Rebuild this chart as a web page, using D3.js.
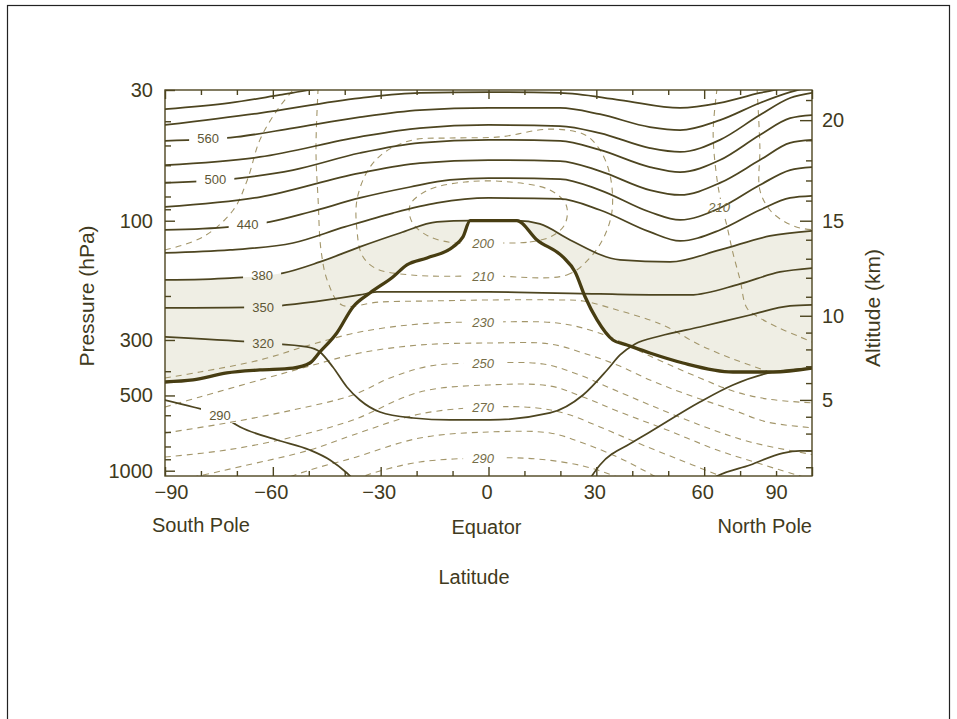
<!DOCTYPE html>
<html>
<head>
<meta charset="utf-8">
<script src="https://cdn.jsdelivr.net/npm/d3@7"></script>
<style>
  html, body { margin: 0; padding: 0; background: #fff; }
  svg { display: block; font-family: "Liberation Sans", Arial, Helvetica, sans-serif; }
</style>
</head>
<body>
<svg id="chart" width="957" height="719"></svg>
<script>
// ---- Axis values ----
const latTicks = [-90, -60, -30, 0, 30, 60, 90];
const latTickLabels = ["\u221290", "\u221260", "\u221230", "0", "30", "60", "90"];
const latMinorTicks = [-80, -70, -50, -40, -20, -10, 10, 20, 40, 50, 70, 80];
const pressureTicks = [30, 100, 300, 500, 1000];
const pressureMinorTicks = [40, 50, 60, 70, 80, 90, 200, 400, 600, 700, 800, 900];
const altitudeKm = [5, 10, 15, 20];
const altitudePressure = [521, 240, 100, 39.6];
const altitudeMinorKm = [1, 2, 3, 4, 6, 7, 8, 9, 11, 12, 13, 14, 16, 17, 18, 19, 21];

// ---- Isentropes (potential temperature, K): [latitude, pressure hPa] ----
const theta620 = [[-90,35.8],[-71.9,33.8],[-58,31.4],[-49.7,30],[-41.3,28.9],[-30.2,28]];
const theta590 = [[-90,41.4],[-63.6,37.1],[-35.8,32.3],[-19.1,30.8],[0,30.6],[19.9,30.8],[36.6,32.9],[53.3,35.4],[64.4,33.8],[75.5,30.8],[81.1,29.7],[86,28.5]];
const theta560 = [[-90,47.9],[-70,46.2],[-54.4,42.6],[-35.8,38.5],[-19.1,36.1],[0,35.4],[19.9,35.4],[31,37.5],[44.9,42.2],[53.3,43.4],[64.4,39.6],[75.5,33.8],[83.9,30.6],[88,29.5]];
const theta530 = [[-90,59.9],[-63.6,55.6],[-35.8,46.2],[-19.1,42.6],[0,41.4],[19.9,41.8],[31,44.6],[44.9,51.2],[53.3,53.1],[64.4,47.5],[75.5,37.8],[83.9,32.3],[90,30.8]];
const theta500 = [[-90,70.6],[-69.1,67.5],[-54.4,62.7],[-35.8,53.6],[-19.1,48.8],[0,47.5],[19.9,47.9],[31,52.1],[44.9,61.0],[53.3,63.9],[64.4,57.2],[75.5,45.4],[83.9,38.9],[90,37.8]];
const theta470 = [[-90,88.1],[-63.6,80.4],[-35.8,64.5],[-19.1,58.8],[0,57.2],[19.9,57.7],[31,63.3],[44.9,75.4],[53.3,78.9],[64.4,70.6],[75.5,57.2],[83.9,48.8],[90,47.5]];
const theta440 = [[-90,108.9],[-71.9,105.9],[-60.8,101.1],[-49.7,92.3],[-35.8,81.1],[-21.8,73.3],[-10.7,68.7],[0,67.5],[19.9,68.1],[31,75.4],[44.9,92.3],[53.3,99.3],[64.4,88.9],[75.5,72.0],[83.9,62.7],[90,61.0]];
const theta410 = [[-90,134.6],[-71.9,130.9],[-54.4,122.8],[-40,105.9],[-26.6,93.2],[-14.3,84.9],[0,81.1],[19.9,81.8],[31,90.6],[44.9,110.9],[53.3,120.5],[64.4,108.9],[75.5,90.6],[83.9,81.1],[90,79.6]];
const theta380 = [[-90,172.6],[-71.9,169.5],[-57.2,161.9],[-46.9,146.2],[-35.8,127.3],[-24.6,112],[-14.3,101.1],[-5.1,100],[7.9,100],[14.3,103],[22.7,119.4],[36.6,143.5],[50.5,146.2],[64.4,130.9],[78.3,115.1],[90,109.9]];
const theta350 = [[-90,223.4],[-62.7,221.3],[-56.1,217.3],[-44.9,207.5],[-35.8,198.2],[-31,192.8],[0,192.8],[31,196.4],[56.1,198.2],[70,179.0],[81.1,160.3],[90,154.6]];
const theta320 = [[-90,291.8],[-62.7,308.5],[-50.5,319.9],[-46.9,335],[-43.3,384.7],[-39.4,462.4],[-35.8,521.3],[-30.2,582.2],[-21,615.4],[-10.7,626.8],[0.4,626.8],[17.1,587.6],[26.3,497.9],[33,395.4],[36.6,344.4],[40.8,311.2],[47.7,289.2],[58.8,266.2],[72.8,238.3],[83.9,219.3],[90,217.3]];
const theta290S = [[-90,521.3],[-82.2,556.1],[-74.7,598.6],[-69.1,668.5],[-58.8,753.6],[-49.7,826.3],[-44.1,906],[-39.4,1021.5],[-35.8,1150]];
const theta290N = [[26.9,1150],[31,948.7],[40.2,767.6],[44.9,700],[58.8,531],[68,454],[79.2,402.8],[90,388.4]];
const theta260N = [[58.8,1150],[63.6,1050],[72.8,948.7],[81.9,849.7],[86.7,834],[90,834]];

// ---- Tropopause ----
const tropopause = [[-90,441.7],[-82.2,433.6],[-72.8,406.5],[-63.6,395.4],[-54.4,388.4],[-49.7,370.8],[-46.9,335],[-42.2,281.3],[-37.7,221.3],[-33,194.6],[-26.6,167.9],[-22.7,150.3],[-17.1,140.9],[-9.9,127.3],[-7.1,116.1],[-5.1,100],[7.9,100],[13.5,119.4],[20.7,139.6],[24.1,160.3],[26.9,201.9],[30.2,249.5],[34.6,300],[38.5,314.1],[44.9,338.2],[54.1,370.8],[68,402.8],[79.2,402.8],[90,388.4]];

// ---- Isotherms (K): [latitude, pressure hPa] ----
const isotherm200 = [[0,122.8],[11.5,121.6],[17.7,115.1],[21.3,103],[21.6,86.5],[17.1,75.4],[6,70],[-6.5,70],[-16.8,75.4],[-21.8,86.5],[-21.3,101.1],[-16.8,115.1],[-9.3,122.8]];
const isotherm210 = [[0,166.3],[21.8,164.8],[28.2,140.9],[32.4,114],[34.4,90.6],[33.8,65.6],[31,52.1],[26.9,45.4],[17.1,43],[3.2,46.2],[-10.7,46.7],[-21,47.5],[-28.8,53.1],[-33.5,62.7],[-36.6,82.6],[-36.6,108.9],[-35.2,137.1],[-31.6,154.6],[-21.8,164.8]];
const isotherm220 = [[-47.4,29.5],[-48,52.1],[-47.4,82.6],[-46.6,130.9],[-44.7,175.8],[-40.8,217.3],[-30.2,211.4],[-16.3,209.4],[0,207.5],[19.9,207.5],[26.3,209.4],[35.8,227.6],[44.9,249.5],[49.7,266.2],[58.8,314.1],[68,357.4],[77.5,399.1]];
const isotherm230 = [[-90,425.7],[-80.3,402.8],[-63.6,360.7],[-49.7,314.1],[-35.8,278.7],[-19.1,258.9],[0,254.1],[19.1,256.5],[28.2,273.6],[35.8,300],[44.9,347.6],[58.8,425.7],[68,479.9],[77.5,516.5],[90.8,536.2]];
const isotherm240 = [[-90,556.1],[-80.3,507.1],[-63.6,433.6],[-49.7,381.2],[-35.8,338.2],[-19.1,314.1],[0,308.5],[17.1,311.2],[26.3,338.2],[35.8,377.7],[44.9,433.6],[54.1,488.7],[68,571.6],[77.5,638.5],[90.8,674.8]];
const isotherm250 = [[-90,706.5],[-72.8,644.3],[-54.4,571.6],[-37.7,497.9],[-27.4,425.7],[-16.3,381.2],[0,370.8],[15.2,374.2],[24.6,410.3],[33.8,466.8],[44.9,545.9],[58.8,656.3],[72.8,767.6],[90.8,865.2]];
const isotherm260 = [[-90,881.3],[-72.8,826.3],[-54.4,733],[-37.7,626.8],[-19.1,484.3],[0,454],[17.1,458.2],[26.3,507.1],[35.8,576.9],[49.7,687.2],[63.6,826.3],[77.5,957.5],[86.7,1050],[92.2,1110]];
const isotherm270 = [[-91.4,1110],[-82.2,1060],[-68.3,957.5],[-49.7,826.3],[-37.7,719.6],[-19.1,593.2],[0,556.1],[13.5,561.2],[21.8,593.2],[31,668.5],[40.2,760.6],[53.3,906],[64.4,1050],[68.6,1120]];
const isotherm280 = [[-60.8,1130],[-49.7,993.4],[-37.7,889.3],[-19.1,739.8],[0,700],[17.1,706.5],[26.3,774.8],[35.8,881.3],[43,993.4],[49.1,1110]];
const isotherm290 = [[-39.9,1130],[-33,1031],[-19.1,922.9],[0,889.3],[13.5,897.5],[26.3,957.5],[35.8,1060],[39.4,1120]];
const isothermPolarSouth = [[-90,130.9],[-79.4,116.1],[-71,90.6],[-67.1,68.7],[-63.6,47.5],[-58.8,36.1],[-54.4,30],[-52.4,27.5]];
const isothermPolarNorth210 = [[63.6,29.5],[62.5,44.6],[63.6,68.7],[65,88.1],[66.4,105.9],[68,134.6],[70,172.6],[71.9,223.4],[75.5,244.9],[80.3,266.2],[86.7,291.8],[90.8,308.5]];
const isothermPolarNorth = [[74.7,29.5],[75.5,50.7],[75.5,75.4],[78.3,90.6],[82.5,101.2],[86.7,106.9],[90.8,108.9]];

// ---- Contour labels ----
const thetaLabelText = ["560", "500", "440", "380", "350", "320", "290"];
const thetaLabelLat = [-78, -76, -67, -63, -62.7, -62.7, -74.7];
const thetaLabelLines = [theta560, theta500, theta440, theta380, theta350, theta320, theta290S];
const tempLabelText = ["200", "210", "230", "250", "270", "290"];
const tempLabelLines = [isotherm200, isotherm210, isotherm230, isotherm250, isotherm270, isotherm290];
const tempLabelLat = -1.5;
const northTempLabel = { text: "210", point: [65, 88.1] };

// ---- Layout ----
const W = 957, H = 719;
const plot = { left: 165, right: 812, top: 90, bottom: 476 };
const ink = "#4d4520";
const textInk = "#3f3a20";
const dashInk = "#a3966a";
const shade = "#efeee4";

const x = d3.scaleLinear().domain([-90, 90]).range([plot.left, plot.right]);
const y = d3.scaleLog().domain([30, 1050]).range([plot.top, plot.bottom]);
const altitude = d3.scaleLinear().domain(altitudeKm).range(altitudePressure.map(y));

const svg = d3.select("#chart");
// isentropes and the tropopause are single-valued in latitude: monotone curves avoid overshoot
const smooth = d3.line().x(d => x(d[0])).y(d => y(d[1])).curve(d3.curveMonotoneX);
// isotherms can fold back on themselves
const line = d3.line().x(d => x(d[0])).y(d => y(d[1])).curve(d3.curveCatmullRom.alpha(0.5));
const loop = d3.line().x(d => x(d[0])).y(d => y(d[1])).curve(d3.curveCatmullRomClosed.alpha(0.5));

function pressureAt(pts, lat) {
  for (let i = 0; i < pts.length - 1; i++) {
    const [a0, p0] = pts[i], [a1, p1] = pts[i + 1];
    if (a0 !== a1 && (lat - a0) * (lat - a1) <= 0) {
      const t = (lat - a0) / (a1 - a0);
      return Math.exp(Math.log(p0) + t * (Math.log(p1) - Math.log(p0)));
    }
  }
  return pts[0][1];
}
const equatorPressure = pts => pts.find(d => d[0] === 0)[1];

// outer border
svg.append("rect").attr("x", 7.5).attr("y", 5.5).attr("width", 942).attr("height", 730)
  .attr("fill", "none").attr("stroke", "#222").attr("stroke-width", 1.2);

const defs = svg.append("defs");
defs.append("clipPath").attr("id", "plotClip").append("rect")
  .attr("x", plot.left).attr("y", plot.top)
  .attr("width", plot.right - plot.left).attr("height", plot.bottom - plot.top);

function makeMask(id, boxes) {
  const m = defs.append("mask").attr("id", id).attr("maskUnits", "userSpaceOnUse")
    .attr("x", 0).attr("y", 0).attr("width", W).attr("height", H);
  m.append("rect").attr("width", W).attr("height", H).attr("fill", "#fff");
  boxes.forEach(b => m.append("rect").attr("x", b.cx - b.w / 2).attr("y", b.cy - 8)
    .attr("width", b.w).attr("height", 16).attr("fill", "#000"));
}

const thetaLabelPos = thetaLabelText.map((t, i) => ({
  text: t, cx: x(thetaLabelLat[i]), cy: y(pressureAt(thetaLabelLines[i], thetaLabelLat[i])), w: 38
}));
const tempLabelPos = tempLabelText.map((t, i) => ({
  text: t, cx: x(tempLabelLat), cy: y(equatorPressure(tempLabelLines[i])), w: 40
}));
tempLabelPos.push({ text: northTempLabel.text, cx: x(northTempLabel.point[0]) - 3, cy: y(northTempLabel.point[1]), w: 30 });

makeMask("thetaMask", thetaLabelPos);
makeMask("tempMask", tempLabelPos);

const plotG = svg.append("g").attr("clip-path", "url(#plotClip)");

// lowermost stratosphere shading: between the 380 K isentrope and the tropopause
function band(upper, lower) {
  return smooth(upper) + smooth(lower.slice().reverse()).replace(/^M/, "L") + "Z";
}
const south = d => d[0] <= -5.1, north = d => d[0] >= 7.9;
plotG.append("path").attr("d", band(theta380.filter(south), tropopause.filter(south))).attr("fill", shade);
plotG.append("path").attr("d", band(theta380.filter(north), tropopause.filter(north))).attr("fill", shade);

// isotherms (dashed)
const tempG = plotG.append("g").attr("mask", "url(#tempMask)")
  .attr("fill", "none").attr("stroke", dashInk).attr("stroke-width", 1.1).attr("stroke-dasharray", "6,5");
[isotherm220, isotherm230, isotherm240, isotherm250, isotherm260, isotherm270, isotherm280, isotherm290,
 isothermPolarSouth, isothermPolarNorth210, isothermPolarNorth].forEach(d => tempG.append("path").attr("d", line(d)));
[isotherm200, isotherm210].forEach(d => tempG.append("path").attr("d", loop(d)));

// isentropes (solid)
const thetaG = plotG.append("g").attr("mask", "url(#thetaMask)")
  .attr("fill", "none").attr("stroke", ink).attr("stroke-width", 1.75).attr("stroke-linecap", "round");
[theta620, theta590, theta560, theta530, theta500, theta470, theta440, theta410, theta380,
 theta350, theta320, theta290S, theta290N, theta260N].forEach(d => thetaG.append("path").attr("d", smooth(d)));

// tropopause
plotG.append("path").attr("d", smooth(tropopause)).attr("fill", "none")
  .attr("stroke", "#473d12").attr("stroke-width", 3.3).attr("stroke-linejoin", "round");

// contour labels
svg.append("g").selectAll("text").data(thetaLabelPos).join("text")
  .attr("x", d => d.cx).attr("y", d => d.cy).attr("dy", "0.36em")
  .attr("text-anchor", "middle").attr("font-size", 13).attr("fill", "#5e5735")
  .text(d => d.text);
svg.append("g").selectAll("text").data(tempLabelPos).join("text")
  .attr("x", d => d.cx).attr("y", d => d.cy).attr("dy", "0.36em")
  .attr("text-anchor", "middle").attr("font-size", 13).attr("font-style", "italic").attr("fill", "#756d48")
  .text(d => d.text);

// frame
svg.append("rect").attr("x", plot.left).attr("y", plot.top)
  .attr("width", plot.right - plot.left).attr("height", plot.bottom - plot.top)
  .attr("fill", "none").attr("stroke", ink).attr("stroke-width", 1.4);

// axes
function styleAxis(g, size) {
  g.select(".domain").remove();
  g.selectAll(".tick line").attr("stroke", ink).attr("stroke-width", 1.4);
  g.selectAll(".tick text").attr("fill", textInk).attr("font-size", size)
    .attr("font-family", "'Liberation Sans', Arial, sans-serif");
}
// left: pressure
svg.append("g").attr("transform", `translate(${plot.left},0)`)
  .call(d3.axisLeft(y).tickValues(pressureMinorTicks).tickSizeInner(-6).tickSizeOuter(0).tickFormat(""))
  .call(g => styleAxis(g, 20));
svg.append("g").attr("transform", `translate(${plot.left},0)`)
  .call(d3.axisLeft(y).tickValues(pressureTicks).tickSizeInner(-10).tickSizeOuter(0).tickPadding(12).tickFormat(d3.format("d")))
  .call(g => styleAxis(g, 20));
// right: altitude
svg.append("g").attr("transform", `translate(${plot.right},0)`)
  .call(d3.axisRight(altitude).tickValues(altitudeMinorKm).tickSizeInner(-6).tickSizeOuter(0).tickFormat(""))
  .call(g => styleAxis(g, 20));
svg.append("g").attr("transform", `translate(${plot.right},0)`)
  .call(d3.axisRight(altitude).tickValues(altitudeKm).tickSizeInner(-12).tickSizeOuter(0).tickPadding(10).tickFormat(d3.format("d")))
  .call(g => styleAxis(g, 20));
// bottom: latitude
svg.append("g").attr("transform", `translate(0,${plot.bottom})`)
  .call(d3.axisBottom(x).tickValues(latMinorTicks).tickSizeInner(-5).tickSizeOuter(0).tickFormat(""))
  .call(g => styleAxis(g, 20));
const bottomAxis = svg.append("g").attr("transform", `translate(0,${plot.bottom})`)
  .call(d3.axisBottom(x).tickValues(latTicks).tickSizeInner(-9).tickSizeOuter(0).tickPadding(9)
    .tickFormat((d, i) => latTickLabels[i]))
  .call(g => styleAxis(g, 20));
bottomAxis.selectAll(".tick text").attr("x", d => d === -90 ? 6 : d === 90 ? -36 : -2);
// top: latitude ticks only
svg.append("g").attr("transform", `translate(0,${plot.top})`)
  .call(d3.axisTop(x).tickValues(latMinorTicks).tickSizeInner(-5).tickSizeOuter(0).tickFormat(""))
  .call(g => styleAxis(g, 20));
svg.append("g").attr("transform", `translate(0,${plot.top})`)
  .call(d3.axisTop(x).tickValues(latTicks).tickSizeInner(-9).tickSizeOuter(0).tickFormat(""))
  .call(g => styleAxis(g, 20));

// axis words
const words = svg.append("g").attr("fill", textInk).attr("font-size", 20);
words.append("text").attr("x", 152).attr("y", 532).text("South Pole");
words.append("text").attr("x", x(0) - 2).attr("y", 534).attr("text-anchor", "middle").text("Equator");
words.append("text").attr("x", plot.right).attr("y", 533).attr("text-anchor", "end").text("North Pole");
words.append("text").attr("x", 474).attr("y", 584).attr("text-anchor", "middle").text("Latitude");
words.append("text").attr("transform", "translate(94,296) rotate(-90)").attr("text-anchor", "middle")
  .attr("font-size", 21).text("Pressure (hPa)");
words.append("text").attr("transform", "translate(880,308) rotate(-90)").attr("text-anchor", "middle")
  .attr("font-size", 21).text("Altitude (km)");
</script>
</body>
</html>
